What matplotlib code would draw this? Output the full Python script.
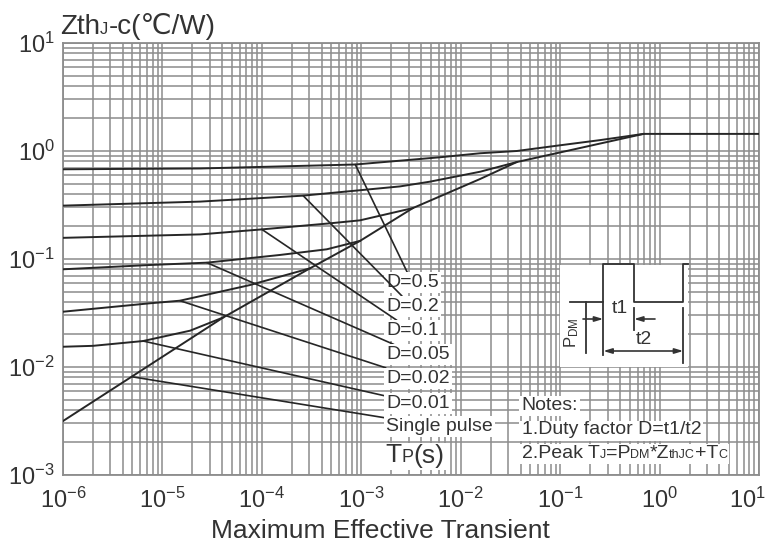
import numpy as np
import matplotlib
matplotlib.use('Agg')
import matplotlib.pyplot as plt
from matplotlib.ticker import LogLocator, NullFormatter
from matplotlib.transforms import IdentityTransform, ScaledTranslation
from matplotlib.patches import Rectangle

plt.rcParams['font.family'] = ['Liberation Sans', 'DejaVu Sans']
plt.rcParams['mathtext.fontset'] = 'custom'
plt.rcParams['mathtext.rm'] = 'Liberation Sans'
plt.rcParams['mathtext.it'] = 'Liberation Sans:italic'
plt.rcParams['mathtext.bf'] = 'Liberation Sans:bold'

# curve data (pulse width s, Zth degC/W)
single_x = [1e-6, 4.9e-6, 4.1e-5, 3.05e-4, 9.7e-4, 3.3e-3, 1.57e-2, 3.66e-2, 0.25, 0.69, 10]
single_y = [0.00316, 0.00813, 0.0288, 0.082, 0.147, 0.296, 0.551, 0.79, 1.17, 1.44, 1.44]

d001_x = [1e-6, 2e-6, 6.4e-6, 1.9e-5, 4.1e-5]
d001_y = [0.0154, 0.0157, 0.0174, 0.0217, 0.0288]

d002_x = [1e-6, 7.5e-6, 1.5e-5, 7.6e-5, 3.05e-4]
d002_y = [0.0325, 0.0389, 0.0411, 0.0574, 0.082]

d005_x = [1e-6, 7.5e-6, 2.8e-5, 1.52e-4, 4.5e-4, 9.7e-4]
d005_y = [0.0803, 0.088, 0.0925, 0.109, 0.123, 0.147]

d01_x = [1e-6, 2.4e-5, 1.0e-4, 4.85e-4, 9.7e-4, 3.3e-3]
d01_y = [0.157, 0.169, 0.188, 0.214, 0.228, 0.296]

d02_x = [1e-6, 2.4e-5, 2.6e-4, 2.45e-3, 4.9e-3, 1.57e-2, 3.66e-2]
d02_y = [0.312, 0.34, 0.386, 0.47, 0.52, 0.643, 0.79]

d05_x = [1e-6, 2.4e-5, 8.7e-4, 6.2e-3, 1.57e-2, 3.66e-2, 9.3e-2, 0.25, 0.69]
d05_y = [0.677, 0.689, 0.75, 0.875, 0.953, 1.0, 1.12, 1.26, 1.44]

labels = ['D=0.5', 'D=0.2', 'D=0.1', 'D=0.05', 'D=0.02', 'D=0.01', 'Single pulse']
# where each leader line leaves its curve
lead_x = [8.7e-4, 2.6e-4, 1.0e-4, 2.8e-5, 1.5e-5, 6.4e-6, 4.9e-6]
lead_y = [0.75, 0.386, 0.188, 0.0925, 0.0411, 0.0174, 0.00813]
label_pos = [0.445, 0.390, 0.334, 0.278, 0.224, 0.166, 0.112]

x_ticks = [1e-6, 1e-5, 1e-4, 1e-3, 1e-2, 1e-1, 1e0, 1e1]
y_ticks = [1e-3, 1e-2, 1e-1, 1e0, 1e1]

W, H = 774, 545
ink = '#262626'
txt = '#333333'
gridc = '#8c8c8c'

fig = plt.figure(figsize=(W / 100, H / 100), dpi=100)
ax = fig.add_axes([63 / W, 1 - 475 / H, 696 / W, 432 / H])
ax.set_xscale('log')
ax.set_yscale('log')
ax.set_xticks(x_ticks)
ax.set_yticks(y_ticks)
ax.set_xlim(1e-6, 10)
ax.set_ylim(1e-3, 10)

for axis in (ax.xaxis, ax.yaxis):
    axis.set_minor_locator(LogLocator(base=10, subs=np.arange(2, 10), numticks=20))
    axis.set_minor_formatter(NullFormatter())
ax.grid(True, which='both', color=gridc, lw=1.1)
ax.set_axisbelow(True)
for s in ax.spines.values():
    s.set_color(gridc)
    s.set_linewidth(1.3)
ax.tick_params(which='both', length=0, labelsize=17, labelcolor=txt)
ax.tick_params(axis='x', pad=9)
ax.tick_params(axis='y', pad=6)

curves = [(single_x, single_y), (d001_x, d001_y), (d002_x, d002_y), (d005_x, d005_y),
          (d01_x, d01_y), (d02_x, d02_y), (d05_x, d05_y)]
for xs, ys in curves:
    ax.plot(xs, ys, color=ink, lw=1.4, solid_joinstyle='round', zorder=3)

for lab, lx, ly, py in zip(labels, lead_x, lead_y, label_pos):
    ax.annotate(lab, xy=(lx, ly), xytext=(0.464, py), textcoords='axes fraction',
                fontsize=14, color=txt, ha='left', va='center', zorder=5,
                bbox=dict(boxstyle='square,pad=0.1', fc='white', ec='none'),
                arrowprops=dict(arrowstyle='-', color=ink, lw=1.2, shrinkA=0, shrinkB=0))

fig.canvas.draw()
renderer = fig.canvas.get_renderer()

# pull the last x tick label (10^1) inside the canvas
last = ax.xaxis.get_major_ticks()[-1].label1
last.set_transform(last.get_transform() + ScaledTranslation(-8 / 72, 0, fig.dpi_scale_trans))


def chain(x, y, parts, box=False):
    # texts placed one after another on a common baseline, pixel coords from top-left
    x0 = x
    exts = []
    for s, fs in parts:
        t = fig.text(x, H - y, s, fontsize=fs, color=txt, ha='left', va='baseline',
                     transform=IdentityTransform(), zorder=6)
        e = t.get_window_extent(renderer)
        exts.append(e)
        x = e.x1
    if box:
        y0 = min(e.y0 for e in exts) - 2
        y1 = max(e.y1 for e in exts) + 1
        fig.patches.append(Rectangle((x0 - 3, y0), x - x0 + 5, y1 - y0, fc='white', ec='none',
                                     transform=IdentityTransform(), zorder=5))


chain(60, 34, [('Zth', 20), ('J', 12), ('-c(℃/W)', 20)])
chain(385, 462.5, [('T', 19), ('P', 13), ('(s)', 19)], box=True)
chain(521.7, 409.5, [('Notes:', 14)], box=True)
chain(521.7, 434.5, [('1.Duty factor D=t1/t2', 14)], box=True)
chain(521.7, 458.0, [('2.Peak T', 14), ('J', 9), ('=P', 14), ('DM', 9), ('*Z', 14),
                     ('thJC', 9), ('+T', 14), ('C', 9)], box=True)

fig.text(380 / W, 1 - 531.5 / H, 'Maximum Effective Transient', fontsize=19, color=txt,
         ha='center', va='center')

# pulse sketch, local units roughly one per pixel
iax = fig.add_axes([560 / W, 1 - 367 / H, 128 / W, 102 / H], zorder=4)
iax.set_xlim(0, 128)
iax.set_ylim(0, 102)
iax.set_xticks([])
iax.set_yticks([])
for s in iax.spines.values():
    s.set_visible(False)
iax.set_facecolor('white')
lk = dict(color=txt, lw=1.3, clip_on=False)
iax.plot([10, 43.3, 43.3, 74, 74, 123.3, 123.3, 128], [65.3, 65.3, 103, 103, 65.3, 65.3, 103, 103], **lk)
iax.plot([43.3, 43.3], [65.3, 12], **lk)
iax.plot([25.7, 25.7], [14, 65.3], **lk)
iax.plot([74, 74], [59, 37], **lk)
iax.plot([123.3, 123.3], [59, 4], **lk)
ak = dict(color=txt, lw=1.2, shrinkA=0, shrinkB=0)
iax.annotate('', xy=(25.7, 103), xytext=(25.7, 65.3),
             arrowprops=dict(arrowstyle='<|-|>,head_length=0.5,head_width=0.15', **ak))
iax.annotate('', xy=(43.3, 48), xytext=(23, 48),
             arrowprops=dict(arrowstyle='-|>,head_length=0.5,head_width=0.15', **ak))
iax.annotate('', xy=(74, 48), xytext=(95, 48),
             arrowprops=dict(arrowstyle='-|>,head_length=0.5,head_width=0.15', **ak))
iax.annotate('', xy=(123.3, 16), xytext=(43.3, 16),
             arrowprops=dict(arrowstyle='<|-|>,head_length=0.5,head_width=0.15', **ak))
iax.text(60, 58.7, 't1', fontsize=14, color=txt, ha='center', va='center')
iax.text(84, 27, 't2', fontsize=14, color=txt, ha='center', va='center')
iax.text(11.7, 34, r'P$_{\mathregular{DM}}$', fontsize=12, color=txt, rotation=90,
         ha='center', va='center')

fig.savefig('out.png', dpi=100)
